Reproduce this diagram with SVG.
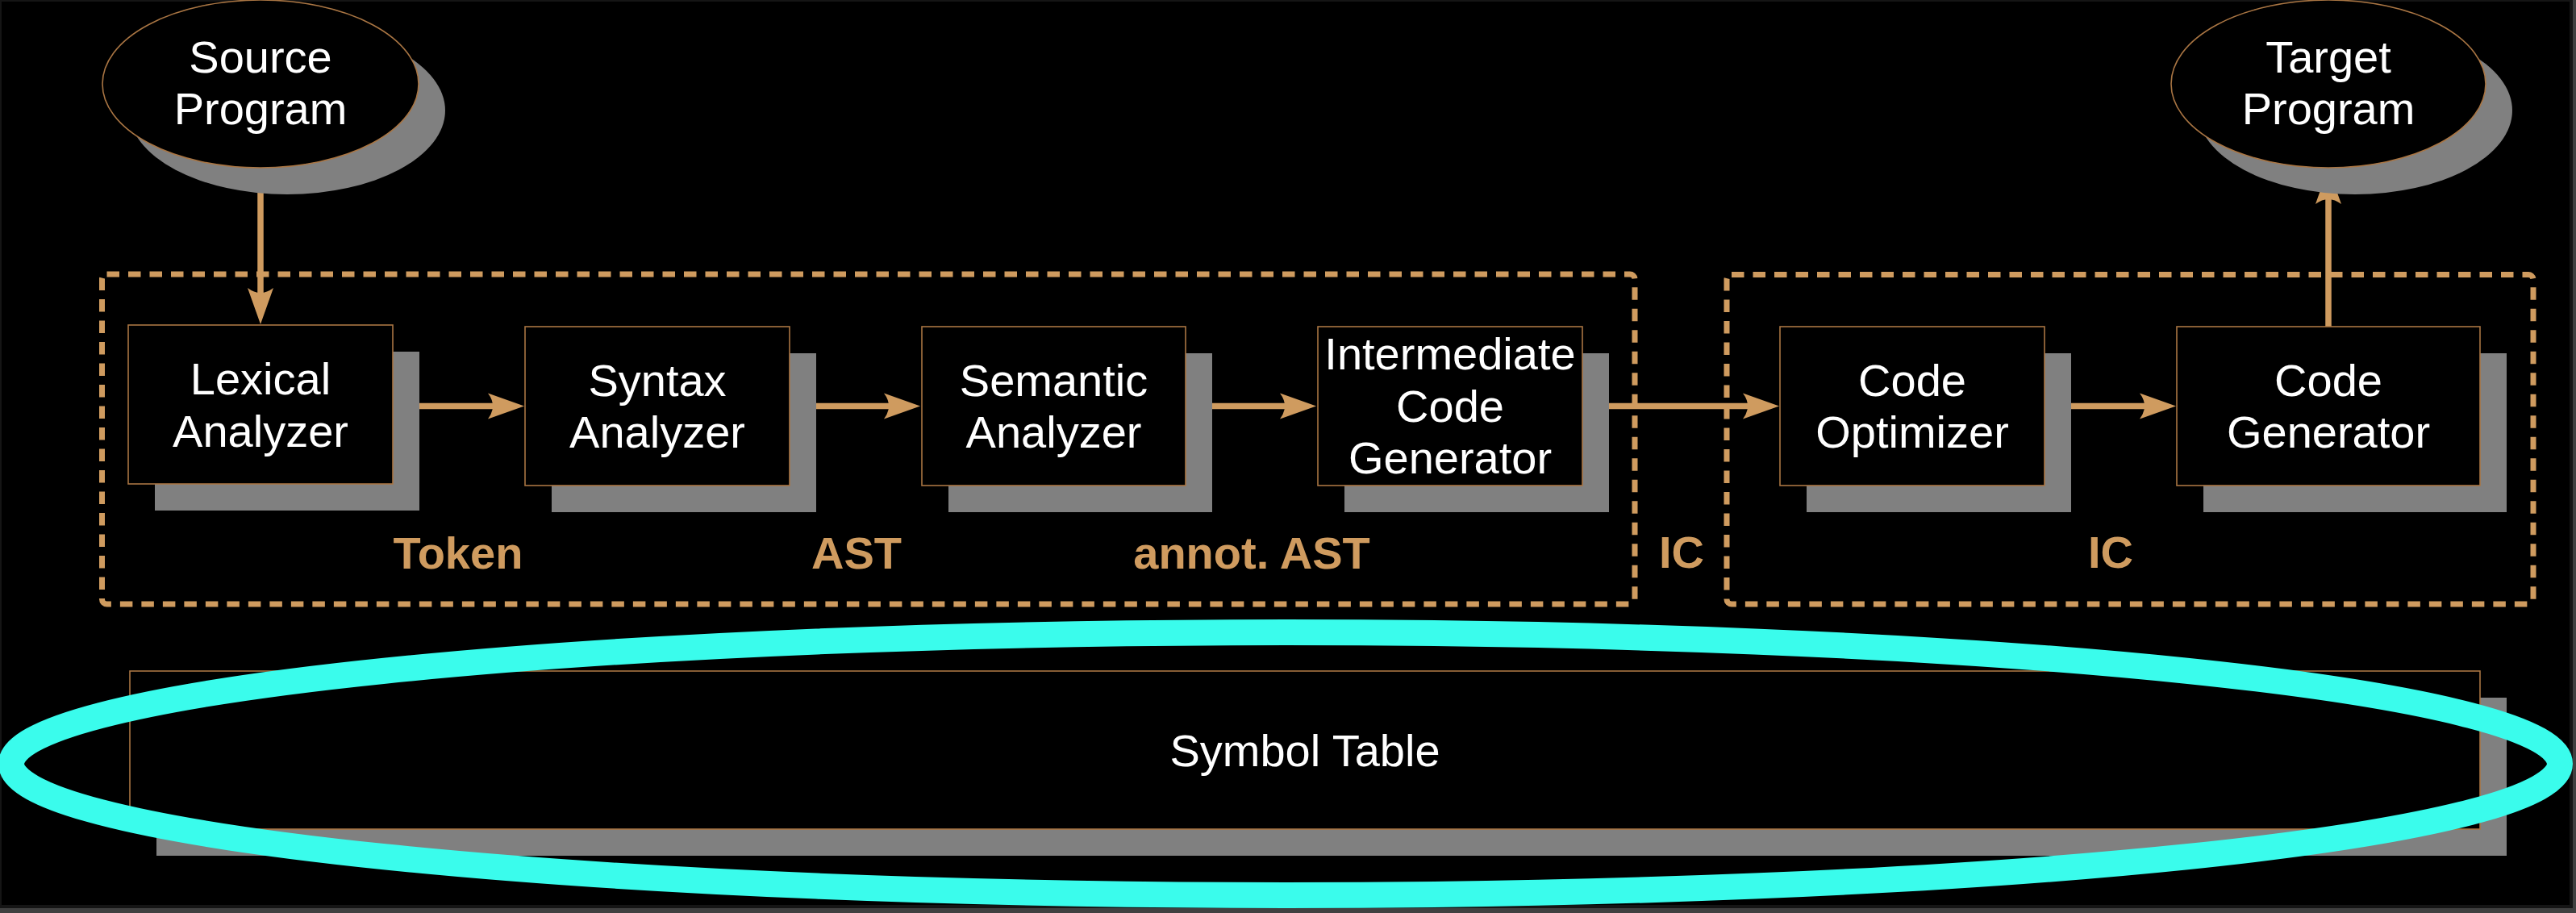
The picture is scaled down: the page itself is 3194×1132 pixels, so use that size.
<svg xmlns="http://www.w3.org/2000/svg" width="3194" height="1132" viewBox="0 0 3194 1132">
  <style>
    .shadow { fill: #808080; }
    .box { fill: #000; stroke: #a97543; stroke-width: 1.6; }
    .lbl { font-family: "Liberation Sans", Arial, sans-serif; font-size: 56px; fill: #fff; text-anchor: middle; }
    .flow { font-family: "Liberation Sans", Arial, sans-serif; font-size: 56px; font-weight: bold; fill: #cf9b5f; text-anchor: middle; }
    .group { fill: none; stroke: #cf9b5f; stroke-width: 7; stroke-dasharray: 15.5 11; }
    .conn { fill: none; stroke: #cf9b5f; stroke-width: 7.5; marker-end: url(#arrow); }
  </style>
  <defs>
    <marker id="arrow" markerUnits="userSpaceOnUse" markerWidth="46" markerHeight="34" refX="7" refY="16" orient="auto" overflow="visible">
      <path d="M0,0 L45,16 L0,32 Q12,16 0,0 Z" fill="#cf9b5f"/>
    </marker>
  </defs>

  <!-- frame / background -->
  <rect x="0" y="0" width="3194" height="1132" fill="#404040"/>
  <rect x="0" y="0" width="3190" height="1126" fill="#151515"/>
  <rect x="2" y="2" width="3184" height="1120" fill="#000"/>

  <!-- phase groups -->
  <g id="groups">
    <rect class="group" x="126.5" y="340" width="1900.5" height="409" rx="6"/>
    <rect class="group" x="2141" y="340.5" width="1000" height="408.5" rx="6"/>
  </g>

  <!-- connectors -->
  <g id="connectors">
    <line class="conn" x1="323" y1="208" x2="323" y2="364"/>
    <line class="conn" x1="487" y1="503.5" x2="612" y2="503.5"/>
    <line class="conn" x1="979" y1="503.5" x2="1103" y2="503.5"/>
    <line class="conn" x1="1470" y1="503.5" x2="1594" y2="503.5"/>
    <line class="conn" x1="1962" y1="503.5" x2="2168" y2="503.5"/>
    <line class="conn" x1="2535" y1="503.5" x2="2660" y2="503.5"/>
    <line class="conn" x1="2887" y1="405" x2="2887" y2="246"/>
  </g>

  <!-- flow labels -->
  <g id="flow-labels">
    <text class="flow" x="568" y="705">Token</text>
    <text class="flow" x="1062" y="705">AST</text>
    <text class="flow" x="1552" y="705">annot. AST</text>
    <text class="flow" x="2085" y="704">IC</text>
    <text class="flow" x="2617" y="704">IC</text>
  </g>

  <g id="source-program">
    <ellipse class="shadow" cx="356" cy="137" rx="196" ry="104"/>
    <ellipse class="box" cx="323" cy="104" rx="196" ry="104" stroke-width="1.3"/>
    <text class="lbl" x="323" y="89.5">Source</text>
    <text class="lbl" x="323" y="154">Program</text>
  </g>

  <g id="target-program">
    <ellipse class="shadow" cx="2920" cy="137" rx="195" ry="104"/>
    <ellipse class="box" cx="2887" cy="104" rx="195" ry="104" stroke-width="1.3"/>
    <text class="lbl" x="2887" y="89.5">Target</text>
    <text class="lbl" x="2887" y="153.5">Program</text>
  </g>

  <g id="lexical-analyzer">
    <rect class="shadow" x="192" y="436" width="328" height="197"/>
    <rect class="box" x="159" y="403" width="328" height="197"/>
    <text class="lbl" x="323" y="489">Lexical</text>
    <text class="lbl" x="323" y="554">Analyzer</text>
  </g>

  <g id="syntax-analyzer">
    <rect class="shadow" x="684" y="438" width="328" height="197"/>
    <rect class="box" x="651" y="405" width="328" height="197"/>
    <text class="lbl" x="815" y="490.5">Syntax</text>
    <text class="lbl" x="815" y="555">Analyzer</text>
  </g>

  <g id="semantic-analyzer">
    <rect class="shadow" x="1176" y="438" width="327" height="197"/>
    <rect class="box" x="1143" y="405" width="327" height="197"/>
    <text class="lbl" x="1306.5" y="490.5">Semantic</text>
    <text class="lbl" x="1306.5" y="555">Analyzer</text>
  </g>

  <g id="intermediate-code-generator">
    <rect class="shadow" x="1667" y="438" width="328" height="197"/>
    <rect class="box" x="1634" y="405" width="328" height="197"/>
    <text class="lbl" x="1798" y="458">Intermediate</text>
    <text class="lbl" x="1798" y="522.5">Code</text>
    <text class="lbl" x="1798" y="587">Generator</text>
  </g>

  <g id="code-optimizer">
    <rect class="shadow" x="2240" y="438" width="328" height="197"/>
    <rect class="box" x="2207" y="405" width="328" height="197"/>
    <text class="lbl" x="2371" y="490.5">Code</text>
    <text class="lbl" x="2371" y="555">Optimizer</text>
  </g>

  <g id="code-generator">
    <rect class="shadow" x="2732" y="438" width="376" height="197"/>
    <rect class="box" x="2699" y="405" width="376" height="197"/>
    <text class="lbl" x="2887" y="490.5">Code</text>
    <text class="lbl" x="2887" y="555">Generator</text>
  </g>

  <g id="symbol-table">
    <rect class="shadow" x="194" y="865" width="2914" height="196"/>
    <rect class="box" x="161" y="832" width="2914" height="196"/>
    <text class="lbl" x="1618" y="950">Symbol Table</text>
  </g>

  <g id="highlight">
    <ellipse cx="1594" cy="947" rx="1580" ry="163" fill="none" stroke="#3afcec" stroke-width="32"/>
  </g>
</svg>
